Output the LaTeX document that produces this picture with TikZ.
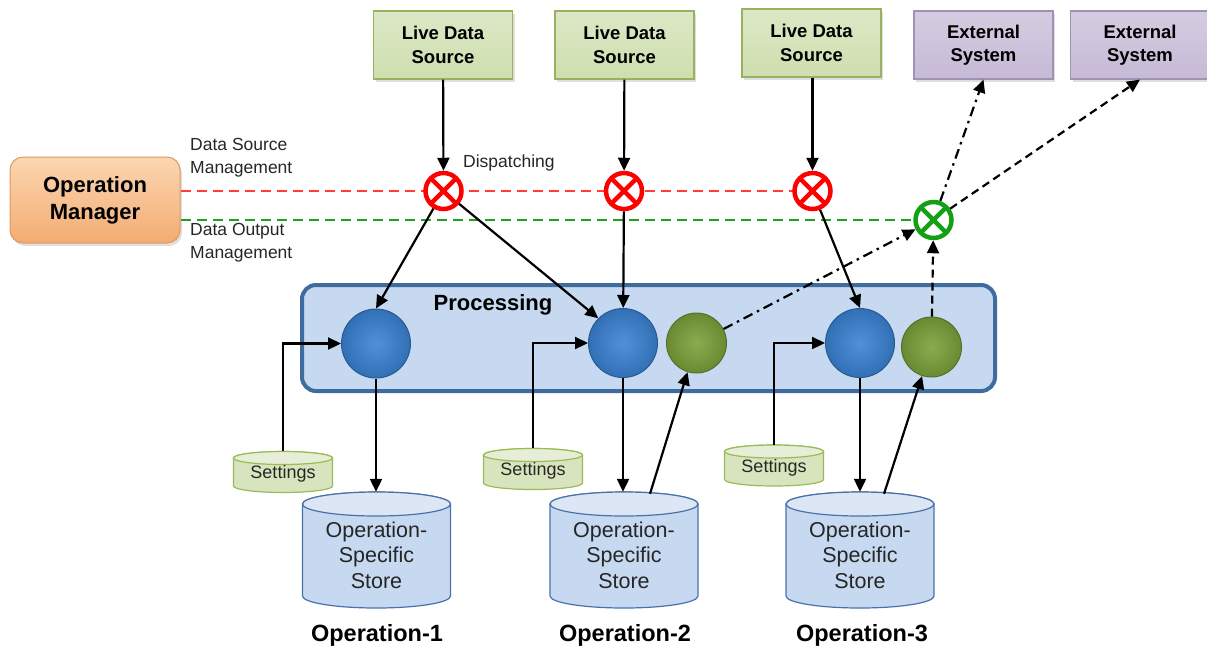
\documentclass[tikz,border=0pt]{standalone}
\usepackage{fontspec}
\setmainfont{Liberation Sans}
\usetikzlibrary{arrows.meta,shadows,backgrounds}
\definecolor{ldsT}{HTML}{DCE8C6}
\definecolor{ldsF}{HTML}{CFDEAF}
\definecolor{ldsB}{HTML}{98B262}
\definecolor{extT}{HTML}{D5CCE1}
\definecolor{extF}{HTML}{C6BAD6}
\definecolor{extB}{HTML}{A091B5}
\definecolor{omT}{HTML}{FCD6B2}
\definecolor{omBt}{HTML}{F3AC72}
\definecolor{omD}{HTML}{DE9A63}
\definecolor{procF}{HTML}{C6D9F1}
\definecolor{procB}{HTML}{3E6C9E}
\definecolor{setF}{HTML}{D7E4BD}
\definecolor{setT}{HTML}{E6EED7}
\definecolor{setB}{HTML}{9BBB59}
\definecolor{stoF}{HTML}{C6D9F1}
\definecolor{stoT}{HTML}{DCE6F4}
\definecolor{stoB}{HTML}{4A72A8}
\definecolor{blueIn}{HTML}{4F91DA}
\definecolor{blueOut}{HTML}{3270B5}
\definecolor{blueB}{HTML}{2A5A93}
\definecolor{grnIn}{HTML}{8AAC4E}
\definecolor{grnOut}{HTML}{6A8A32}
\definecolor{grnB}{HTML}{55702A}
\definecolor{xred}{HTML}{FF0000}
\definecolor{xgreen}{HTML}{13A013}
\definecolor{dred}{HTML}{FF3B3B}
\definecolor{dgreen}{HTML}{22A022}
\definecolor{lbl}{HTML}{262626}
\newcommand\boxfont{\fontsize{18.5}{23.5}\selectfont\bfseries}
\newcommand\bigbold{\fontsize{22}{27}\selectfont\bfseries}
\newcommand\opfont{\fontsize{23.5}{27}\selectfont\bfseries}
\newcommand\lblfont{\fontsize{17.5}{23}\selectfont}
\newcommand\storefont{\fontsize{21.5}{25.5}\selectfont}
\newcommand\setfont{\fontsize{18}{20}\selectfont}
% #1 node, #2 half width, #3 half height, #4 y radius, #5 body fill, #6 top fill, #7 border
\newcommand\cyl[7]{%
  \begin{scope}[shift={(#1.center)}]
    \draw[line width=1.2pt, draw=#7, fill=#5] (-#2,-#3+#4) -- (-#2,#3-#4)
      arc[start angle=180,end angle=360,x radius=#2pt,y radius=#4pt]
      -- (#2,-#3+#4)
      arc[start angle=0,end angle=180,x radius=#2pt,y radius=#4pt] -- cycle;
    \draw[line width=1.2pt, draw=#7, fill=#6] (0,-#3+#4) ellipse[x radius=#2pt, y radius=#4pt];
  \end{scope}}
\tikzset{
  lds/.style={draw=ldsB, line width=1.2pt, top color=ldsT, bottom color=ldsF,
    minimum width=139pt, minimum height=68pt, align=center, font=\boxfont, inner sep=0pt,
    drop shadow={opacity=0.25, shadow xshift=2pt, shadow yshift=-3pt}},
  ext/.style={lds, draw=extB, top color=extT, bottom color=extF},
  om/.style={draw=omD, line width=1pt, top color=omT, bottom color=omBt, rounded corners=13pt,
    minimum width=170pt, minimum height=86pt, align=center, font=\bigbold,
    drop shadow={opacity=0.25, shadow xshift=2pt, shadow yshift=-3pt}},
  xcirc/.style={circle, draw=#1, line width=4.5pt, fill=white, minimum size=36pt, inner sep=0pt,
    path picture={\draw[#1, line width=4.5pt]
      (path picture bounding box.north east) -- (path picture bounding box.south west)
      (path picture bounding box.north west) -- (path picture bounding box.south east);}},
  bball/.style={circle, minimum size=#1, inner sep=0pt, shade, inner color=blueIn, outer color=blueOut,
    draw=blueB, line width=1pt},
  gball/.style={circle, minimum size=#1, inner sep=0pt, shade, inner color=grnIn, outer color=grnOut,
    draw=grnB, line width=1pt},
  cylnode/.style={rectangle, inner sep=0pt, minimum width=#1},
  conn/.style={line width=2.2pt, -{Triangle[length=13pt,width=12pt]}},
  conndash/.style={conn, dash pattern=on 8pt off 5pt},
  conndd/.style={conn, dash pattern=on 10pt off 5pt on 2.5pt off 5pt},
  lbl/.style={font=\lblfont, text=lbl, inner sep=0pt, align=left, anchor=west},
}
\begin{document}
\begin{tikzpicture}[x=1pt,y=-1pt]
\useasboundingbox (0,0) rectangle (1207,649);

% processing region
\node[draw=procB, fill=procF, line width=4pt, rounded corners=14pt,
  minimum width=693pt, minimum height=106pt] (proc) at (648.5,338) {};
\node[font=\bigbold] (proctxt) at (493,305) {Processing};

% top boxes
\node[om] (om) at (95,200) {Operation\\Manager};
\node[lds] (l1) at (443,45) {Live Data\\Source};
\node[lds] (l2) at (624.5,45) {Live Data\\Source};
\node[lds] (l3) at (811.5,43) {Live Data\\Source};
\node[ext] (e1) at (983.5,45) {External\\System};
\node[ext] (e2) at (1140,45) {External\\System};

% dispatch circles
\node[xcirc=xred] (r1) at (443.5,191) {};
\node[xcirc=xred] (r2) at (624,191) {};
\node[xcirc=xred] (r3) at (812.5,191) {};
\node[xcirc=xgreen] (gc) at (933.5,220) {};

% spheres
\node[bball=69pt] (b1) at (376,343.5) {};
\node[bball=69pt] (b2) at (623,343) {};
\node[bball=69pt] (b3) at (860,343) {};
\node[gball=60pt] (g1) at (696.5,343) {};
\node[gball=60pt] (g2) at (931.5,347) {};

% settings and stores (anchor boxes)
\node[cylnode=99pt, minimum height=41pt] (set1) at (283,472) {};
\node[cylnode=99pt, minimum height=41pt] (set2) at (533,469) {};
\node[cylnode=99pt, minimum height=41pt] (set3) at (774,465.5) {};
\node[cylnode=148pt, minimum height=116pt] (s1) at (376.5,550) {};
\node[cylnode=148pt, minimum height=116pt] (s2) at (624,550) {};
\node[cylnode=148pt, minimum height=116pt] (s3) at (860,550) {};

\begin{scope}[on background layer]
  \draw[dred, line width=2pt, dash pattern=on 10pt off 6pt] (om.east |- r1.center) -- (r3.center);
  \draw[dgreen, line width=2pt, dash pattern=on 10pt off 6pt] (om.east |- gc.center) -- (gc.center);
  \cyl{set1}{49.5}{20.5}{6.5}{setF}{setT}{setB}
  \cyl{set2}{49.5}{20.5}{6.5}{setF}{setT}{setB}
  \cyl{set3}{49.5}{20.5}{6.5}{setF}{setT}{setB}
  \cyl{s1}{74}{58}{12}{stoF}{stoT}{stoB}
  \cyl{s2}{74}{58}{12}{stoF}{stoT}{stoB}
  \cyl{s3}{74}{58}{12}{stoF}{stoT}{stoB}
\end{scope}

% cylinder texts
\node[font=\setfont, text=lbl] (set1t) at ([yshift=-2pt]set1.center) {Settings};
\node[font=\setfont, text=lbl] (set2t) at ([yshift=-2pt]set2.center) {Settings};
\node[font=\setfont, text=lbl] (set3t) at ([yshift=-2pt]set3.center) {Settings};
\node[font=\storefont, text=lbl, align=center] (s1t) at ([yshift=-5pt]s1.center) {Operation-\\Specific\\Store};
\node[font=\storefont, text=lbl, align=center] (s2t) at ([yshift=-5pt]s2.center) {Operation-\\Specific\\Store};
\node[font=\storefont, text=lbl, align=center] (s3t) at ([yshift=-5pt]s3.center) {Operation-\\Specific\\Store};

% labels
\node[lbl] (dsm) at (190,158) {Data Source\\Management};
\node[lbl] (dom) at (190,243) {Data Output\\Management};
\node[lbl] (disp) at (463,163) {Dispatching};
\node[font=\opfont] (op1) at (377,635) {Operation-1};
\node[font=\opfont] (op2) at (625,635) {Operation-2};
\node[font=\opfont] (op3) at (862,635) {Operation-3};

% connectors
\draw[conn] (l1) -- (r1);
\draw[conn] (l2) -- (r2);
\draw[conn] (r3 |- l3.south) -- (r3);
\draw[conn] (r1) -- (b1.north);
\draw[conn] (r1) -- (b2.north west);
\draw[conn] (r2) -- (b2);
\draw[conn] (r3) -- (b3.north);
\draw[conn] (set1.north) |- (b1);
\draw[conn] (set2.north) |- (b2);
\draw[conn] (set3.north) |- (b3);
\draw[conn] (b1) -- (b1 |- s1.north);
\draw[conn] (b2) -- (b2 |- s2.north);
\draw[conn] (b3) -- (b3 |- s3.north);
\draw[conn] ([xshift=26pt,yshift=-2pt]s2.north) -- (g1);
\draw[conn] ([xshift=24pt,yshift=-2pt]s3.north) -- (g2);
\draw[conndd] (g1) -- (gc);
\draw[conndash] (g2) -- (gc);
\draw[conndd] (gc) -- (e1.south);
\draw[conndash] (gc) -- (e2.south);
\end{tikzpicture}
\end{document}
